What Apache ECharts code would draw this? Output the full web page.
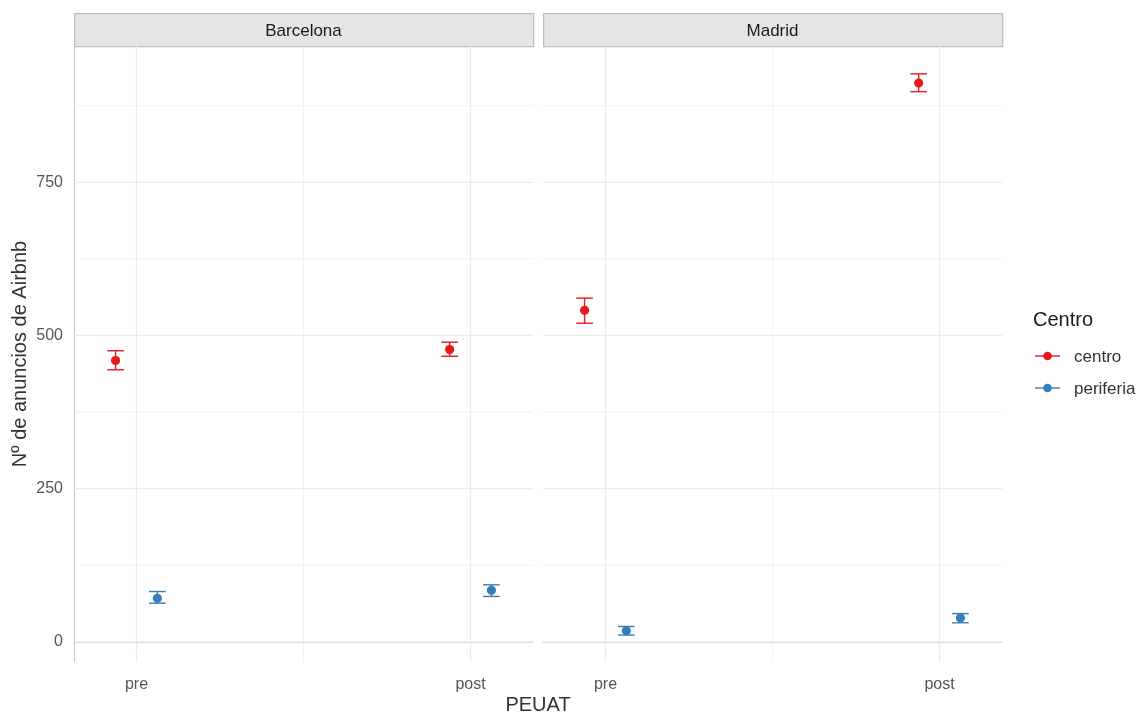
<!DOCTYPE html>
<html>
<head>
<meta charset="utf-8">
<script src="https://cdn.jsdelivr.net/npm/echarts@6/dist/echarts.min.js"></script>
<style>
html,body{margin:0;padding:0;background:#fff;}
#chart{width:1142px;height:713px;}
</style>
</head>
<body>
<div id="chart"></div>
<script>
// ---- data ----
const periods = ['pre', 'post'];
const cities = ['Barcelona', 'Madrid'];
const groups = ['centro', 'periferia'];

const barcelonaCentroMean = [459, 477];
const barcelonaCentroLow = [444, 466];
const barcelonaCentroHigh = [475, 489];
const barcelonaPeriferiaMean = [71, 84];
const barcelonaPeriferiaLow = [63, 74];
const barcelonaPeriferiaHigh = [82, 93];

const madridCentroMean = [541, 912];
const madridCentroLow = [520, 898];
const madridCentroHigh = [561, 927];
const madridPeriferiaMean = [18, 39];
const madridPeriferiaLow = [11, 31];
const madridPeriferiaHigh = [25, 46];

const yTicks = [0, 250, 500, 750];
const yMinorTicks = [125, 375, 625, 875];

// ---- layout / style ----
const FONT = '"Liberation Sans", Arial, sans-serif';
const COLORS = {centro: '#E41A1C', periferia: '#377EB8'};
const X_MIN = 0.813, X_MAX = 2.187;
const Y_MIN = -33, Y_MAX = 972.5;
const DODGE = 0.0625;
const CAP = 0.025;
const GRID_TOP = 46, GRID_H = 616, GRID_W = 459;
const GRID_LEFTS = [74, 543];

const cityData = {
  Barcelona: {
    centro: [barcelonaCentroMean, barcelonaCentroLow, barcelonaCentroHigh],
    periferia: [barcelonaPeriferiaMean, barcelonaPeriferiaLow, barcelonaPeriferiaHigh]
  },
  Madrid: {
    centro: [madridCentroMean, madridCentroLow, madridCentroHigh],
    periferia: [madridPeriferiaMean, madridPeriferiaLow, madridPeriferiaHigh]
  }
};

function renderErr(params, api) {
  const x = api.value(0), m = api.value(1), lo = api.value(2), hi = api.value(3);
  const color = api.visual('color');
  const top = api.coord([x, hi]), bot = api.coord([x, lo]), c = api.coord([x, m]);
  const tl = api.coord([x - CAP, hi]), tr = api.coord([x + CAP, hi]);
  const bl = api.coord([x - CAP, lo]), br = api.coord([x + CAP, lo]);
  const st = {stroke: color, lineWidth: 1.4};
  return {
    type: 'group',
    children: [
      {type: 'line', shape: {x1: top[0], y1: top[1], x2: bot[0], y2: bot[1]}, style: st},
      {type: 'line', shape: {x1: tl[0], y1: tl[1], x2: tr[0], y2: tr[1]}, style: st},
      {type: 'line', shape: {x1: bl[0], y1: bl[1], x2: br[0], y2: br[1]}, style: st},
      {type: 'circle', shape: {cx: c[0], cy: c[1], r: 4.6}, style: {fill: color}}
    ]
  };
}

function renderGridLine(params, api) {
  const v = api.value(0), orient = api.value(1), major = api.value(2);
  let p1, p2;
  if (orient === 0) { p1 = api.coord([X_MIN, v]); p2 = api.coord([X_MAX, v]); }
  else { p1 = api.coord([v, Y_MIN]); p2 = api.coord([v, Y_MAX]); }
  return {
    type: 'line',
    shape: {x1: p1[0], y1: p1[1], x2: p2[0], y2: p2[1]},
    style: {stroke: '#ebebeb', lineWidth: major ? 1.2 : 0.7}
  };
}

const grids = [], xAxes = [], yAxes = [], series = [];
cities.forEach((city, i) => {
  grids.push({left: GRID_LEFTS[i], top: GRID_TOP, width: GRID_W, height: GRID_H, containLabel: false});
  xAxes.push({
    type: 'value', gridIndex: i, min: X_MIN, max: X_MAX,
    axisLine: {show: true, lineStyle: {color: '#cccccc', width: 1.2}},
    axisTick: {show: false}, splitLine: {show: false},
    axisLabel: {
      customValues: periods.map((p, k) => k + 1),
      formatter: v => periods[Math.round(v) - 1] || '',
      color: '#555555', fontFamily: FONT, fontSize: 16, margin: 15
    }
  });
  yAxes.push({
    type: 'value', gridIndex: i, min: Y_MIN, max: Y_MAX,
    axisLine: {show: i === 0, lineStyle: {color: '#cccccc', width: 1.2}},
    axisTick: {show: false}, splitLine: {show: false},
    axisLabel: {
      show: i === 0, customValues: yTicks,
      color: '#555555', fontFamily: FONT, fontSize: 16, margin: 11
    },
    name: i === 0 ? 'Nº de anuncios de Airbnb' : '',
    nameLocation: 'middle', nameGap: 44,
    nameTextStyle: {color: '#333333', fontFamily: FONT, fontSize: 20}
  });
  // gridlines
  const gl = [];
  yTicks.forEach(v => gl.push([v, 0, 1]));
  yMinorTicks.forEach(v => gl.push([v, 0, 0]));
  periods.forEach((p, k) => gl.push([k + 1, 1, 1]));
  for (let k = 1; k < periods.length; k++) gl.push([k + 0.5, 1, 0]);
  series.push({
    type: 'custom', xAxisIndex: i, yAxisIndex: i, silent: true, z: 1,
    renderItem: renderGridLine, data: gl, encode: {x: -1, y: -1}, clip: false
  });
  groups.forEach((g, gi) => {
    const [mean, low, high] = cityData[city][g];
    const off = gi === 0 ? -DODGE : DODGE;
    series.push({
      type: 'custom', name: g, xAxisIndex: i, yAxisIndex: i, z: 5,
      itemStyle: {color: COLORS[g]},
      renderItem: renderErr,
      encode: {x: 0, y: [1, 2, 3]},
      data: periods.map((p, k) => [k + 1 + off, mean[k], low[k], high[k]])
    });
  });
});

const graphics = [];
cities.forEach((city, i) => {
  graphics.push({
    type: 'rect', left: GRID_LEFTS[i], top: 13,
    shape: {width: GRID_W, height: 33},
    style: {fill: '#e5e5e5', stroke: '#bfbfbf', lineWidth: 1.3}
  });
  graphics.push({
    type: 'text', x: GRID_LEFTS[i] + GRID_W / 2, y: 31,
    style: {text: city, fill: '#1a1a1a', font: '17px ' + FONT, align: 'center', verticalAlign: 'middle'}
  });
});
graphics.push({
  type: 'text', x: GRID_LEFTS[0] + (GRID_LEFTS[1] + GRID_W - GRID_LEFTS[0]) / 2, y: 705,
  style: {text: 'PEUAT', fill: '#333333', font: '20px ' + FONT, align: 'center', verticalAlign: 'middle'}
});
graphics.push({
  type: 'text', x: 1033, y: 320,
  style: {text: 'Centro', fill: '#1a1a1a', font: '20px ' + FONT, align: 'left', verticalAlign: 'middle'}
});
groups.forEach((g, gi) => {
  const y = 356 + gi * 32;
  graphics.push({type: 'line', shape: {x1: 1035, y1: y, x2: 1060, y2: y}, style: {stroke: COLORS[g], lineWidth: 1.4}});
  graphics.push({type: 'circle', shape: {cx: 1047.5, cy: y, r: 4.3}, style: {fill: COLORS[g]}});
  graphics.push({
    type: 'text', x: 1074, y: y + 1,
    style: {text: g, fill: '#333333', font: '17px ' + FONT, align: 'left', verticalAlign: 'middle'}
  });
});

const chart = echarts.init(document.getElementById('chart'), null, {renderer: 'canvas'});
chart.setOption({
  backgroundColor: '#ffffff',
  animation: false,
  textStyle: {fontFamily: FONT},
  grid: grids, xAxis: xAxes, yAxis: yAxes, series: series,
  graphic: graphics
});
</script>
</body>
</html>
